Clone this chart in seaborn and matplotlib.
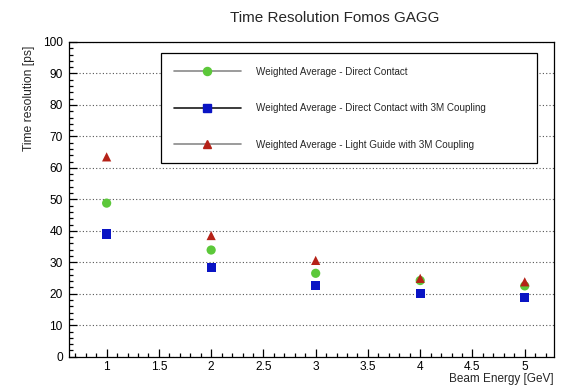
import matplotlib
matplotlib.use("Agg")
import matplotlib.pyplot as plt
from matplotlib.lines import Line2D
from matplotlib.ticker import MultipleLocator
import pandas as pd
import seaborn as sns

# Beam energies [GeV] and weighted-average time resolutions [ps]
energy = [1, 2, 3, 4, 5]
direct_contact = [48.8, 33.9, 26.5, 24.2, 22.5]
direct_contact_3m = [39.0, 28.3, 22.7, 20.2, 18.9]
light_guide_3m = [63.5, 38.5, 30.6, 24.9, 23.8]

labels = [
    "Weighted Average - Direct Contact",
    "Weighted Average - Direct Contact with 3M Coupling",
    "Weighted Average - Light Guide with 3M Coupling",
]
colors = ["#5cc83a", "#0a14c4", "#b52218"]
markers = ["o", "s", "^"]
legend_line_colors = ["#8a8a8a", "#1a1a1a", "#8a8a8a"]

df = pd.concat(
    [
        pd.DataFrame({"energy": energy, "resolution": vals, "setup": lab})
        for vals, lab in zip([direct_contact, direct_contact_3m, light_guide_3m], labels)
    ],
    ignore_index=True,
)

sns.set_style("ticks")
plt.rcParams["font.family"] = ["Liberation Sans", "DejaVu Sans"]

fig = plt.figure(figsize=(5.67, 3.85), dpi=100)
ax = fig.add_axes([69 / 567, 1 - 356.7 / 385, 485 / 567, 314.7 / 385])

sns.scatterplot(
    data=df, x="energy", y="resolution", hue="setup", style="setup",
    palette=dict(zip(labels, colors)), markers=dict(zip(labels, markers)),
    s=44, edgecolor="none", linewidth=0, legend=False, ax=ax, zorder=3,
)

ax.set_xlim(0.64, 5.28)
ax.set_ylim(0, 100)
ax.xaxis.set_major_locator(MultipleLocator(0.5))
ax.xaxis.set_minor_locator(MultipleLocator(0.1))
ax.yaxis.set_major_locator(MultipleLocator(10))
ax.yaxis.set_minor_locator(MultipleLocator(2))
ax.xaxis.set_major_formatter(plt.FuncFormatter(lambda v, p: f"{v:g}"))
ax.tick_params(which="both", direction="in", top=False, right=False,
               colors="black", width=0.9)
ax.tick_params(which="major", length=6, labelsize=8.6)
ax.tick_params(axis="y", which="major", pad=4.5)
ax.tick_params(axis="x", which="major", pad=3)
ax.tick_params(which="minor", length=3)

for sp in ax.spines.values():
    sp.set_visible(True)
    sp.set_color("black")
    sp.set_linewidth(0.9)

ax.yaxis.grid(True, which="major", color="#555555", linestyle=(0, (1, 2)), linewidth=0.8)
ax.xaxis.grid(False)
ax.set_axisbelow(True)

ax.set_xlabel("Beam Energy [GeV]", fontsize=8.5, loc="right")
ax.xaxis.set_label_coords(1.0, -0.051)
ax.set_ylabel("Time resolution [ps]", fontsize=8.7, loc="top")
ax.yaxis.set_label_coords(-0.07, 0.987)

fig.suptitle("Time Resolution Fomos GAGG", x=0.59, y=1 - 18.5 / 385, va="center",
             fontsize=11)

handles = [
    Line2D([0], [0], color=lc, lw=1.2, marker=m, markersize=5.8,
           markerfacecolor=c, markeredgecolor=c)
    for lc, m, c in zip(legend_line_colors, markers, colors)
]
leg = ax.legend(
    handles, labels, loc="upper left",
    bbox_to_anchor=(0.189, 0.627, 0.775, 0.337), mode="expand",
    fontsize=7.1, handlelength=6.8, handletextpad=1.55, labelspacing=2.7,
    borderpad=1.34, borderaxespad=0, frameon=True, fancybox=False,
    framealpha=1, edgecolor="black",
)
leg.get_frame().set_linewidth(0.9)
leg.set_zorder(5)

fig.savefig("out.png", dpi=100)
